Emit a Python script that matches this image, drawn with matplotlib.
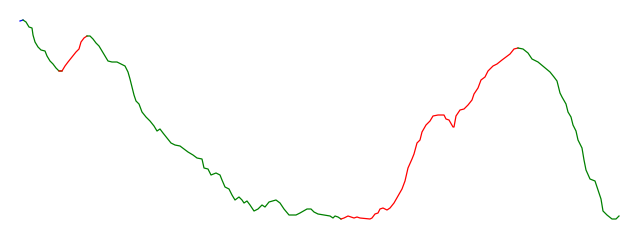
import matplotlib
matplotlib.use("Agg")
import matplotlib.pyplot as plt

days = [20, 23, 26, 29, 32, 33, 35, 38, 41, 45, 47, 50, 53, 56, 59, 62, 65, 68, 72, 76,
        79, 81, 84, 87, 90, 93, 96, 99, 102, 105, 108, 112, 117, 121, 125, 128, 130, 132, 134, 136,
        139, 142, 146, 150, 154, 157, 160, 163, 167, 171, 175, 180, 184, 188, 193, 197, 202, 204, 208, 211,
        216, 220, 222, 225, 229, 232, 235, 239, 242, 244, 247, 250, 254, 258, 262, 265, 269, 276, 280, 284,
        289, 296, 300, 307, 311, 314, 318, 324, 330, 333, 335, 338, 341, 344, 348, 354, 357, 360, 370, 372,
        375, 378, 380, 383, 387, 390, 394, 398, 402, 405, 408, 412, 414, 417, 420, 422, 426, 430, 433, 438,
        444, 446, 449, 453, 454, 456, 460, 464, 468, 472, 474, 478, 481, 485, 488, 493, 497, 502, 506, 510,
        514, 518, 523, 528, 532, 538, 544, 550, 554, 557, 560, 562, 566, 568, 571, 573, 576, 578, 582, 584,
        586, 590, 595, 598, 601, 603, 607, 612, 616, 619]

depth = [21, 20, 22, 27, 28, 35, 42, 47, 50, 51, 56, 61, 64, 68, 71, 71, 66, 62, 57, 52,
         49, 42, 38, 36, 36, 39, 43, 46, 51, 56, 61, 62, 62, 64, 66, 72, 79, 87, 95, 101,
         104, 112, 117, 121, 126, 131, 129, 133, 138, 143, 145, 146, 149, 152, 155, 158, 159, 168, 169, 175,
         173, 175, 180, 187, 189, 195, 200, 197, 200, 203, 201, 205, 211, 209, 205, 207, 202, 200, 203, 209,
         215, 215, 213, 209, 209, 212, 214, 215, 216, 218, 216, 217, 219, 218, 216, 218, 217, 218, 219, 218,
         214, 213, 209, 208, 210, 208, 203, 196, 189, 181, 168, 159, 154, 143, 140, 132, 125, 121, 116, 115,
         115, 119, 120, 127, 127, 116, 110, 109, 105, 100, 94, 88, 80, 77, 71, 66, 64, 60, 57, 54,
         49, 48, 49, 53, 59, 62, 67, 72, 77, 81, 93, 97, 104, 112, 117, 125, 131, 140, 148, 160,
         170, 179, 181, 190, 199, 211, 215, 219, 219, 216]

values = [240 - d for d in depth]

# trend segments: (start day, end day, colour)
trend_start = [20, 23, 60, 87, 341, 518]
trend_end = [23, 60, 87, 341, 518, 619]
trend_color = ["blue", "green", "red", "green", "red", "green"]

fig = plt.figure(figsize=(6.4, 2.4), dpi=100)
ax = fig.add_axes([0, 0, 1, 1])

for s, e, c in zip(trend_start, trend_end, trend_color):
    xs, ys = [], []
    for d, v in zip(days, values):
        if s <= d <= e:
            xs.append(d)
            ys.append(v)
    # connect to neighbours at the boundaries for continuity
    import bisect
    i0 = bisect.bisect_left(days, s)
    if i0 > 0 and days[i0] != s:
        xs.insert(0, days[i0 - 1]); ys.insert(0, values[i0 - 1])
    i1 = bisect.bisect_right(days, e)
    if i1 < len(days) and days[i1 - 1] != e:
        xs.append(days[i1]); ys.append(values[i1])
    ax.plot(xs, ys, color=c, lw=0.9, solid_joinstyle="round")

ax.set_xlim(0, 640)
ax.set_ylim(0, 240)
ax.axis("off")
fig.savefig("out.png", dpi=100)
